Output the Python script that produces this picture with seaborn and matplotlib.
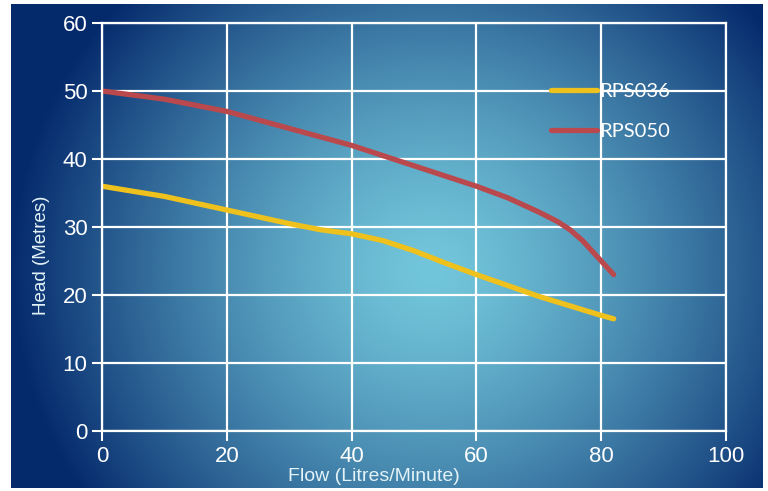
import matplotlib
matplotlib.use("Agg")
import matplotlib.pyplot as plt
import seaborn as sns
import pandas as pd
import numpy as np

# pump curves
flow_036 = [0, 10, 20, 30, 35, 40, 45, 50, 55, 60, 70, 80, 82]
head_036 = [36, 34.5, 32.5, 30.5, 29.6, 29, 28, 26.5, 24.7, 23, 19.8, 17, 16.5]
flow_050 = [0, 10, 20, 30, 40, 50, 60, 65, 70, 73, 75, 77, 79, 80.5, 82]
head_050 = [50, 48.8, 47, 44.5, 42, 39, 36, 34.3, 32.2, 30.8, 29.6, 28.0, 26.0, 24.5, 23]
series_names = ["RPS036", "RPS050"]
x_ticks = [0, 20, 40, 60, 80, 100]
y_ticks = [0, 10, 20, 30, 40, 50, 60]

df = pd.DataFrame({
    "flow": flow_036 + flow_050,
    "head": head_036 + head_050,
    "pump": [series_names[0]] * len(flow_036) + [series_names[1]] * len(flow_050),
})

sns.set_theme(style="white")
plt.rcParams["font.family"] = ["Liberation Sans", "DejaVu Sans"]

fig = plt.figure(figsize=(7.68, 4.91), dpi=100)
fig.patch.set_facecolor("white")

# radial gradient backdrop
bg = fig.add_axes([11 / 768, 3 / 491, 752 / 768, 484 / 491])
bg.set_axis_off()
h, w = 484, 752
yy, xx = np.mgrid[0:h, 0:w]
r = np.sqrt(((xx - 420) / 420.0) ** 2 + ((yy - 265) / 400.0) ** 2)
r = np.clip(r, 0, 1) ** 1.4
c0 = np.array([0x72, 0xc6, 0xdb]) / 255.0
c1 = np.array([0x05, 0x2a, 0x6c]) / 255.0
img = c0[None, None, :] * (1 - r[..., None]) + c1[None, None, :] * r[..., None]
bg.imshow(img, aspect="auto", interpolation="bilinear")

ax = fig.add_axes([102 / 768, 1 - 431 / 491, 624 / 768, 408 / 491])
ax.patch.set_alpha(0)

sns.lineplot(data=df, x="flow", y="head", hue="pump",
             palette=["#efc11c", "#b9494c"], linewidth=3.8,
             ax=ax, legend=False)
for ln in ax.lines:
    ln.set_solid_joinstyle("round")

ax.set_xlim(0, 100)
ax.set_ylim(0, 60)
ax.set_xticks(x_ticks)
ax.set_yticks(y_ticks)
ax.grid(True, color="white", linewidth=1.6)
ax.set_axisbelow(True)
for s in ax.spines.values():
    s.set_color("white")
    s.set_linewidth(1.6)
ax.tick_params(colors="white", labelsize=16, length=7, width=1.5,
               direction="out", bottom=True, left=True)
ax.set_xlabel("Flow (Litres/Minute)", color="#e3f3f8", fontsize=14,
              labelpad=1, x=0.436)
ax.set_ylabel("Head (Metres)", color="#e3f3f8", fontsize=13.5,
              labelpad=9, y=0.43)

handles = [plt.Line2D([], [], color=c, linewidth=3.8) for c in ["#efc11c", "#b9494c"]]
leg = fig.legend(handles, series_names, loc="upper left",
                 bbox_to_anchor=(551 / 768, 1 - 83 / 491),
                 frameon=False, handlelength=2.3, handletextpad=0.1,
                 labelspacing=1.15, borderpad=0, borderaxespad=0,
                 prop={"family": ["Lato", "DejaVu Sans"], "size": 14.5})
for t in leg.get_texts():
    t.set_color("white")

fig.savefig("out.png", dpi=100)
